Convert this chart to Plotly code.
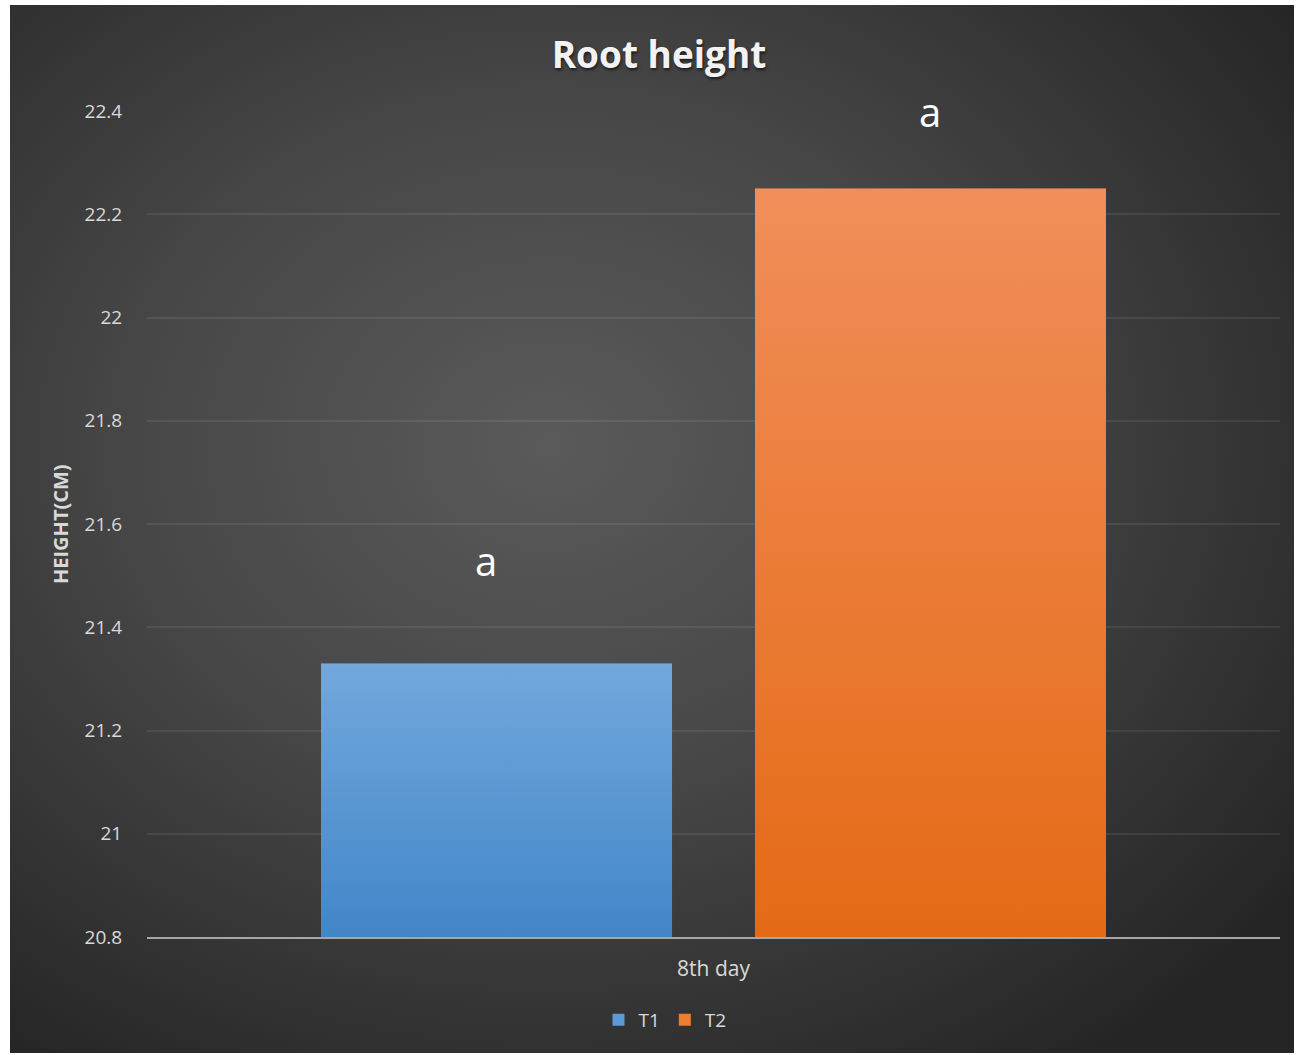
import base64
import plotly.graph_objects as go

# ---- data ----
categories = ["8th day"]
series_names = ["T1", "T2"]
series_values = [[21.33], [22.25]]
significance = ["a", "a"]
label_heights = [21.53, 22.40]
y_ticks = [20.8, 21.0, 21.2, 21.4, 21.6, 21.8, 22.0, 22.2, 22.4]

# ---- styling ----
W, H = 1296, 1055
M_L, M_R, M_T, M_B = 147, 16, 111, 118
Y_MIN, Y_MAX = 20.8, 22.4
BAR_OFFSETS = [-0.3464, 0.0366]
BAR_WIDTH = 0.3098
LABEL_XSHIFT = [-11, 0]
grad_top = ["#72a8dc", "#f18e5a"]
grad_bot = ["#4286c8", "#e46a15"]
solid = ["#5b9bd5", "#ed7d31"]
FONT = "Open Sans"


def svg_uri(svg):
    return "data:image/svg+xml;base64," + base64.b64encode(svg.encode()).decode()


# radial gradient backdrop for the chart area
bg_svg = (
    '<svg xmlns="http://www.w3.org/2000/svg" width="1284" height="1048" '
    'preserveAspectRatio="none">'
    '<defs><radialGradient id="g" cx="0.42" cy="0.42" r="0.72">'
    '<stop offset="0" stop-color="#5a5a5a"/>'
    '<stop offset="0.45" stop-color="#474747"/>'
    '<stop offset="1" stop-color="#252525"/>'
    '</radialGradient></defs>'
    '<rect width="1284" height="1048" fill="url(#g)"/></svg>'
)


# vertical gradient fill for bars
def bar_svg(top, bot):
    return (
        '<svg xmlns="http://www.w3.org/2000/svg" width="100" height="100" '
        'preserveAspectRatio="none">'
        '<defs><linearGradient id="b" x1="0" y1="0" x2="0" y2="1">'
        f'<stop offset="0" stop-color="{top}"/>'
        f'<stop offset="1" stop-color="{bot}"/>'
        '</linearGradient></defs>'
        '<rect width="100" height="100" fill="url(#b)"/></svg>'
    )


pw = W - M_L - M_R
ph = H - M_T - M_B

fig = go.Figure()
for i, name in enumerate(series_names):
    fig.add_trace(go.Bar(
        x=[0],
        y=series_values[i],
        name=name,
        offset=BAR_OFFSETS[i],
        width=BAR_WIDTH,
        marker=dict(color=solid[i], line=dict(width=0)),
        hoverinfo="name+y",
    ))

images = [dict(
    source=svg_uri(bg_svg), xref="paper", yref="paper",
    x=(10 - M_L) / pw, y=(H - M_B - 5) / ph,
    sizex=1284 / pw, sizey=1048 / ph,
    xanchor="left", yanchor="top", sizing="stretch", layer="below",
)]
for i in range(len(series_names)):
    v = series_values[i][0]
    images.append(dict(
        source=svg_uri(bar_svg(grad_top[i], grad_bot[i])), xref="x", yref="y",
        x=BAR_OFFSETS[i], y=v, sizex=BAR_WIDTH, sizey=v - Y_MIN,
        xanchor="left", yanchor="top", sizing="stretch", layer="above",
    ))

annotations = []
for i in range(len(series_names)):
    annotations.append(dict(
        x=BAR_OFFSETS[i] + BAR_WIDTH / 2, y=label_heights[i], xref="x", yref="y",
        text=significance[i], showarrow=False, xshift=LABEL_XSHIFT[i],
        font=dict(family=FONT, size=40, color="#ffffff"),
        xanchor="center", yanchor="middle",
    ))
annotations.append(dict(
    x=(60 - M_L) / pw, y=0.5, xref="paper", yref="paper",
    text="<b>HEIGHT(CM)</b>", showarrow=False, textangle=-90,
    font=dict(family=FONT, size=20, color="#d9d9d9"),
    xanchor="center", yanchor="middle",
))

fig.update_layout(
    width=W, height=H,
    margin=dict(l=M_L, r=M_R, t=M_T, b=M_B, autoexpand=False),
    paper_bgcolor="#ffffff",
    plot_bgcolor="rgba(0,0,0,0)",
    images=images,
    annotations=annotations,
    barmode="overlay",
    title=dict(
        text="<b>Root height</b>", x=659 / W, y=1 - 55 / H,
        xanchor="center", yanchor="middle",
        font=dict(family=FONT, size=37, color="#f2f2f2",
                  shadow="1px 2px 3px rgba(0,0,0,0.6)"),
    ),
    showlegend=True,
    legend=dict(
        orientation="h", x=(665 - M_L) / pw, y=(H - M_B - 1020) / ph,
        xanchor="center", yanchor="middle",
        font=dict(family=FONT, size=19, color="#d9d9d9"),
        bgcolor="rgba(0,0,0,0)", itemwidth=30, traceorder="normal",
    ),
    xaxis=dict(
        range=[-0.5, 0.5], tickvals=[0], ticktext=categories,
        showgrid=False, zeroline=False,
        showline=True, linecolor="#a6a6a6", linewidth=2,
        ticks="outside", ticklen=12, tickcolor="rgba(0,0,0,0)",
        tickfont=dict(family=FONT, size=21, color="#d9d9d9"),
        fixedrange=True,
    ),
    yaxis=dict(
        range=[Y_MIN, Y_MAX], tickvals=y_ticks,
        ticktext=[f"{t:g}" for t in y_ticks],
        showgrid=True, gridcolor="rgba(255,255,255,0.08)", gridwidth=2,
        zeroline=False, showline=False,
        ticks="outside", ticklen=20, tickcolor="rgba(0,0,0,0)",
        tickfont=dict(family=FONT, size=19, color="#d9d9d9"),
        fixedrange=True,
    ),
)

fig.write_html("out.html")
